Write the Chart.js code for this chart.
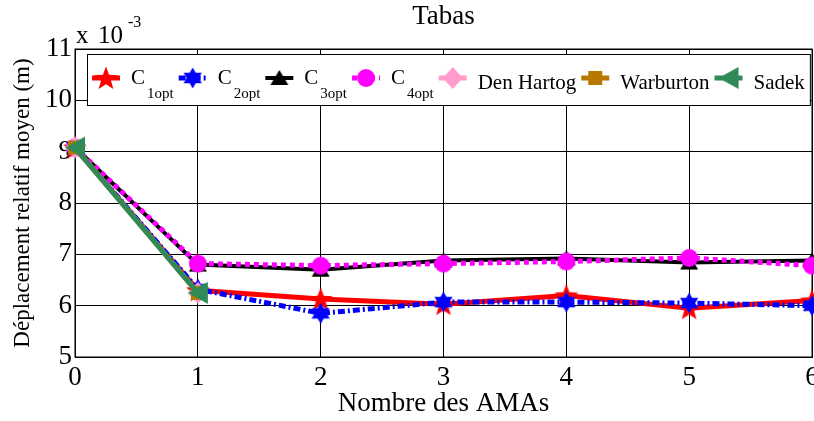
<!DOCTYPE html>
<html>
<head>
<meta charset="utf-8">
<script src="https://cdn.jsdelivr.net/npm/chart.js@4.4.0/dist/chart.umd.min.js"></script>
<style>
  html, body { margin: 0; padding: 0; background: #fff; overflow: hidden; }
  #conteneur { width: 814px; height: 421px; }
</style>
</head>
<body>
<div id="conteneur"><canvas id="graphique"></canvas></div>
<script>
// Nombre des AMAs (axe x)
var nombreAMAs = [0, 1, 2, 3, 4, 5, 6];
// Déplacement relatif moyen, en unités de 10^-3 m
var c1opt = [9.08, 6.30, 6.13, 6.03, 6.20, 5.95, 6.10];
var c2opt = [9.08, 6.32, 5.85, 6.07, 6.07, 6.05, 6.00];
var c3opt = [9.08, 6.80, 6.70, 6.88, 6.92, 6.84, 6.88];
var c4opt = [9.08, 6.82, 6.78, 6.82, 6.86, 6.93, 6.78];
var denHartog = [9.08, 6.25];
var warburton = [9.08, 6.25];
var sadek = [9.08, 6.25];
// Graduations
var graduationsX = [0, 1, 2, 3, 4, 5, 6];
var graduationsY = [5, 6, 7, 8, 9, 10, 11];
// Légende
var nomsSeries = ['C', 'C', 'C', 'C', 'Den Hartog', 'Warburton', 'Sadek'];
var indicesSeries = ['1opt', '2opt', '3opt', '4opt', '', '', ''];

var police = "'Liberation Serif', 'Times New Roman', serif";

// Marqueurs dessinés dans de petits canvas
function marqueur(w, h, dessin) {
    var c = document.createElement('canvas');
    c.width = w;
    c.height = h;
    dessin(c.getContext('2d'), w / 2, h / 2);
    return c;
}
function polygone(g, points, couleur) {
    g.beginPath();
    points.forEach(function (p) { g.lineTo(p[0], p[1]); });
    g.closePath();
    g.fillStyle = couleur;
    g.fill();
}
function etoile(g, cx, cy, branches, rExt, rInt, couleur) {
    var pts = [];
    for (var i = 0; i < branches * 2; i++) {
        var r = i % 2 === 0 ? rExt : rInt;
        var a = -Math.PI / 2 + i * Math.PI / branches;
        pts.push([cx + r * Math.cos(a), cy + r * Math.sin(a)]);
    }
    polygone(g, pts, couleur);
}

var mEtoile = marqueur(26, 26, function (g, cx, cy) { etoile(g, cx, cy + 1, 5, 12.5, 5.2, '#ff0000'); });
var mHexa = marqueur(22, 22, function (g, cx, cy) { etoile(g, cx, cy, 6, 10.5, 6, '#0000ff'); });
var mTriangle = marqueur(20, 18, function (g, cx, cy) {
    polygone(g, [[cx, cy - 8], [cx + 9, cy + 7], [cx - 9, cy + 7]], '#000000');
});
var mCercle = marqueur(20, 20, function (g, cx, cy) {
    g.beginPath(); g.arc(cx, cy, 9, 0, Math.PI * 2); g.fillStyle = '#ff00ff'; g.fill();
});
var mLosange = marqueur(22, 24, function (g, cx, cy) {
    polygone(g, [[cx, cy - 11], [cx + 10, cy], [cx, cy + 11], [cx - 10, cy]], '#ff9ccb');
});
var mCarre = marqueur(16, 16, function (g, cx, cy) {
    polygone(g, [[cx - 7, cy - 7], [cx + 7, cy - 7], [cx + 7, cy + 7], [cx - 7, cy + 7]], '#b87800');
});
var mTriGauche = marqueur(22, 24, function (g, cx, cy) {
    polygone(g, [[cx - 10, cy], [cx + 10, cy - 11], [cx + 10, cy + 11]], '#2e8b57');
});

function points(valeurs) {
    return valeurs.map(function (v, i) { return { x: nombreAMAs[i], y: v }; });
}

var series = [
    { data: c1opt, couleur: '#ff0000', epaisseur: 5, tirets: [], marque: mEtoile },
    { data: c2opt, couleur: '#0000ff', epaisseur: 5, tirets: [7, 3, 2, 3], marque: mHexa },
    { data: c3opt, couleur: '#000000', epaisseur: 4, tirets: [], marque: mTriangle },
    { data: c4opt, couleur: '#ff00ff', epaisseur: 5, tirets: [5, 4], marque: mCercle },
    { data: denHartog, couleur: '#ff9ccb', epaisseur: 5, tirets: [], marque: mLosange },
    { data: warburton, couleur: '#b87800', epaisseur: 5, tirets: [], marque: mCarre },
    { data: sadek, couleur: '#2e8b57', epaisseur: 5, tirets: [], marque: mTriGauche }
];

var jeuxDonnees = series.map(function (s, i) {
    return {
        label: nomsSeries[i] + indicesSeries[i],
        data: points(s.data),
        borderColor: s.couleur,
        backgroundColor: s.couleur,
        borderWidth: s.epaisseur,
        borderDash: s.tirets,
        pointStyle: s.marque,
        pointRadius: 10,
        tension: 0,
        clip: false,
        order: series.length - i
    };
});

// Cadre, multiplicateur "x 10^-3" et légende
var decor = {
    id: 'decor',
    beforeDatasetsDraw: function (chart) {
        var a = chart.chartArea, ctx = chart.ctx;
        ctx.save();
        ctx.strokeStyle = '#000';
        ctx.lineWidth = 1;
        ctx.strokeRect(a.left, a.top, a.right - a.left, a.bottom - a.top);
        ctx.restore();
    },
    afterDraw: function (chart) {
        var a = chart.chartArea, ctx = chart.ctx;
        ctx.save();
        ctx.fillStyle = '#000';
        ctx.textBaseline = 'alphabetic';
        ctx.font = '25px ' + police;
        ctx.fillText('x', a.left + 1, 43);
        ctx.fillText('10', a.left + 23, 43);
        ctx.font = '16px ' + police;
        ctx.fillText('-3', a.left + 53, 27);

        // légende
        var haut = a.top + 5, hauteur = 51;
        var gauche = a.left + 12;
        var x = gauche + 5, largeurs = [];
        series.forEach(function (s, i) {
            ctx.font = '21px ' + police;
            var l = 28 + 11 + ctx.measureText(nomsSeries[i]).width;
            if (indicesSeries[i]) {
                ctx.font = '15px ' + police;
                l += 2 + ctx.measureText(indicesSeries[i]).width;
            }
            largeurs.push(l);
        });
        var total = largeurs.reduce(function (p, q) { return p + q + 5; }, 0);
        var droite = gauche + 5 + total;
        ctx.fillStyle = '#fff';
        ctx.fillRect(gauche, haut, droite - gauche, hauteur);
        ctx.strokeStyle = '#000';
        ctx.lineWidth = 1;
        ctx.strokeRect(gauche + 0.5, haut + 0.5, droite - gauche, hauteur);

        var yMarque = haut + 24;
        series.forEach(function (s, i) {
            ctx.save();
            ctx.strokeStyle = s.couleur;
            ctx.lineWidth = s.epaisseur;
            ctx.setLineDash(s.tirets);
            ctx.beginPath();
            ctx.moveTo(x, yMarque);
            ctx.lineTo(x + 28, yMarque);
            ctx.stroke();
            ctx.restore();
            ctx.drawImage(s.marque, x + 14 - s.marque.width / 2, yMarque - s.marque.height / 2);
            var xt = x + 28 + 11;
            ctx.fillStyle = '#000';
            ctx.font = '21px ' + police;
            if (indicesSeries[i]) {
                ctx.fillText(nomsSeries[i], xt, haut + 30);
                var wc = ctx.measureText(nomsSeries[i]).width;
                ctx.font = '15px ' + police;
                ctx.fillText(indicesSeries[i], xt + wc + 2, haut + 44);
            } else {
                ctx.fillText(nomsSeries[i], xt, haut + 35);
            }
            x += largeurs[i] + 5;
        });
        ctx.restore();
    }
};

var config = {
    type: 'line',
    data: { datasets: jeuxDonnees },
    options: {
        responsive: true,
        maintainAspectRatio: false,
        animation: false,
        layout: { autoPadding: false, padding: { left: 0, right: 2, top: 0, bottom: 0 } },
        plugins: {
            legend: { display: false },
            tooltip: { enabled: false },
            title: {
                display: true,
                text: 'Tabas',
                fullSize: false,
                color: '#000',
                font: { family: police, size: 27, weight: 'normal' },
                padding: { top: 1, bottom: 15.6 }
            }
        },
        scales: {
            x: {
                type: 'linear',
                min: 0,
                max: 6,
                afterBuildTicks: function (s) { s.ticks = graduationsX.map(function (v) { return { value: v }; }); },
                afterFit: function (s) { s.height = 64; s.paddingLeft = 0; s.paddingRight = 0; },
                grid: { color: '#000', lineWidth: 1, drawTicks: false },
                border: { color: '#000', width: 1 },
                ticks: { color: '#000', padding: 5, maxRotation: 0, font: { family: police, size: 27 } },
                title: {
                    display: true,
                    text: 'Nombre des AMAs',
                    color: '#000',
                    font: { family: police, size: 27 },
                    padding: { top: 0, bottom: 1 }
                }
            },
            y: {
                min: 5,
                max: 11,
                afterBuildTicks: function (s) { s.ticks = graduationsY.map(function (v) { return { value: v }; }); },
                afterFit: function (s) { s.width = 75; s.paddingTop = 0; s.paddingBottom = 0; },
                grid: { color: '#000', lineWidth: 1, drawTicks: false },
                border: { color: '#000', width: 1 },
                ticks: { color: '#000', padding: 3, font: { family: police, size: 27 } },
                title: {
                    display: true,
                    text: 'Déplacement relatif moyen (m)',
                    color: '#000',
                    font: { family: police, size: 23 },
                    padding: { top: 9, bottom: 0 }
                }
            }
        }
    },
    plugins: [decor]
};

var ctx = document.getElementById('graphique').getContext('2d');
new Chart(ctx, config);
</script>
</body>
</html>
